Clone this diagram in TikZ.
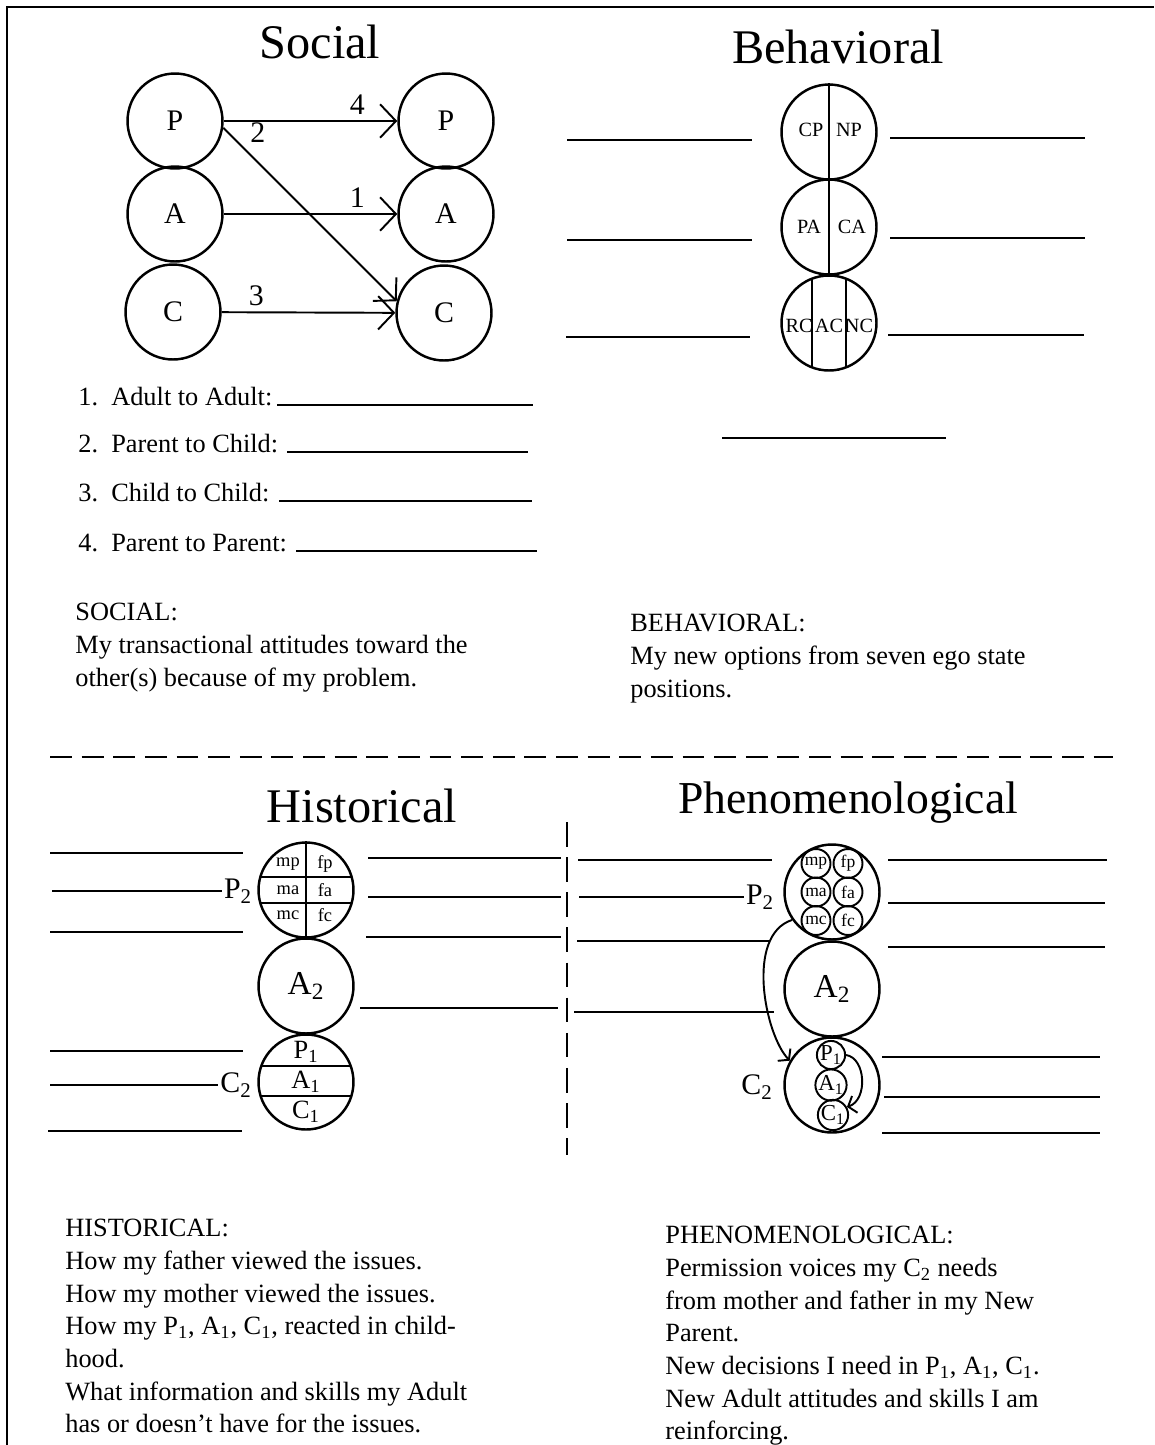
\documentclass[tikz,border=0pt]{standalone}
\usepackage{fontspec}
\setmainfont{Liberation Serif}
\usetikzlibrary{positioning}
\usetikzlibrary{calc}
\usetikzlibrary{arrows.meta}
\tikzstyle{ego} = [circle, draw=black, line width=1.4pt, minimum size=1.9cm, inner sep=0pt, font=\fontsize{17}{20}\selectfont]
\tikzstyle{cell} = [circle, draw=black, line width=1.1pt, minimum size=0.58cm, inner sep=0pt, font=\fontsize{10}{12}\selectfont]
\tikzstyle{lbl} = [inner sep=0pt, font=\fontsize{11.5}{13}\selectfont]
\tikzstyle{title} = [font=\fontsize{27.5}{32}\selectfont]
\tikzstyle{body} = [anchor=north west, inner sep=0pt, align=left, font=\fontsize{15}{18.6}\selectfont]
\tikzstyle{item} = [anchor=base west, inner sep=0pt, font=\fontsize{15}{18.6}\selectfont]
\tikzstyle{arrow} = [line width=1.1pt, -{Straight Barb[length=9pt,width=19pt]}]
\tikzstyle{small arrow} = [line width=1.1pt, -{Straight Barb[length=4pt,width=10pt]}]
\tikzstyle{blank} = [line width=1.2pt]
\begin{document}
\begin{tikzpicture}[x=0.02cm, y=-0.02cm]
        \useasboundingbox (0,0) rectangle (1154,1445);
        \draw[line width=1.6pt] (7,1445) -- (7,7) -- (1154,7);

        % social
        \node[title] (socT) at (320,42) {Social};
        \node[ego] (lP) at (175,121) {P};
        \node[ego] (lA) at (175,214) {A};
        \node[ego] (lC) at (173,312) {C};
        \node[ego] (rP) at (446,121) {P};
        \node[ego] (rA) at (446,214) {A};
        \node[ego] (rC) at (444,313) {C};
        \path [arrow] (lP) edge node[above, pos=.77, font=\fontsize{17}{20}\selectfont] {4} (rP);
        \path [arrow] (lA) edge node[above, pos=.77, font=\fontsize{17}{20}\selectfont] {1} (rA);
        \path [arrow] (lC) edge node[above, pos=.2, font=\fontsize{17}{20}\selectfont] {3} (rC);
        \path [arrow] (lP.-8) edge node[above right, pos=.12, inner sep=3pt, font=\fontsize{17}{20}\selectfont] {2} (rC.166);

        \node[item] (it1) at (78,405) {1.\enspace Adult to Adult:};
        \node[item] (it2) at (78,452) {2.\enspace Parent to Child:};
        \node[item] (it3) at (78,501) {3.\enspace Child to Child:};
        \node[item] (it4) at (78,551) {4.\enspace Parent to Parent:};
        \draw[blank] (277,405) -- (533,405);
        \draw[blank] (287,452) -- (528,452);
        \draw[blank] (279,501) -- (532,501);
        \draw[blank] (296,551) -- (537,551);
        \node[body] (socX) at (75,603) {SOCIAL:\\My transactional attitudes toward the\\other(s) because of my problem.};

        % behavioral
        \node[title] (behT) at (838,47) {Behavioral};
        \node[ego] (bT) at (829,132) {};
        \node[ego] (bM) at (829,227) {};
        \node[ego] (bB) at (829,323) {};
        \draw[line width=1.1pt] (bT.north) -- (bT.south);
        \draw[line width=1.1pt] (bM.north) -- (bM.south);
        \draw[line width=1.1pt] ($(bB.center)+(-17,-44)$) -- ($(bB.center)+(-17,44)$);
        \draw[line width=1.1pt] ($(bB.center)+(17,-44)$) -- ($(bB.center)+(17,44)$);
        \node[lbl] (bCP) at (811,130) {CP};
        \node[lbl] (bNP) at (849,130) {NP};
        \node[lbl] (bPA) at (809,227) {PA};
        \node[lbl] (bCA) at (852,227) {CA};
        \node[lbl] (bRC) at (799,326) {RC};
        \node[lbl] (bAC) at (829,326) {AC};
        \node[lbl] (bNC) at (859,326) {NC};
        \draw[blank] (567,140) -- (752,140);
        \draw[blank] (567,240) -- (752,240);
        \draw[blank] (566,337) -- (750,337);
        \draw[blank] (890,138) -- (1085,138);
        \draw[blank] (890,238) -- (1085,238);
        \draw[blank] (888,335) -- (1084,335);
        \draw[blank] (722,438) -- (946,438);
        \node[body] (behX) at (630,614) {BEHAVIORAL:\\My new options from seven ego state\\positions.};

        % separators
        \draw[line width=1.1pt, dash pattern=on 12.5pt off 5.5pt] (50,757) -- (1113,757);
        \draw[line width=1.1pt, dash pattern=on 14pt off 6pt] (567,822) -- (567,1155);

        % historical
        \node[title] (hisT) at (362,806) {Historical};
        \node[ego] (hT) at (306,890) {};
        \node[ego, font=\fontsize{19}{22}\selectfont] (hM) at (306,986) {A\textsubscript{2}};
        \node[ego] (hB) at (306,1082) {};
        \draw[line width=1.1pt] (hT.north) -- (hT.south);
        \draw[line width=1.1pt] ($(hT.center)+(-45.7,-13)$) -- ($(hT.center)+(45.7,-13)$);
        \draw[line width=1.1pt] ($(hT.center)+(-45.7,13)$) -- ($(hT.center)+(45.7,13)$);
        \draw[line width=1.1pt] ($(hB.center)+(-44.7,-16)$) -- ($(hB.center)+(44.7,-16)$);
        \draw[line width=1.1pt] ($(hB.center)+(-45.4,14)$) -- ($(hB.center)+(45.4,14)$);
        \node[lbl, font=\fontsize{10.5}{12}\selectfont] (hmp) at (288,864) {mp};
        \node[lbl, font=\fontsize{10.5}{12}\selectfont] (hfp) at (325,864) {fp};
        \node[lbl, font=\fontsize{10.5}{12}\selectfont] (hma) at (288,890) {ma};
        \node[lbl, font=\fontsize{10.5}{12}\selectfont] (hfa) at (325,890) {fa};
        \node[lbl, font=\fontsize{10.5}{12}\selectfont] (hmc) at (288,915) {mc};
        \node[lbl, font=\fontsize{10.5}{12}\selectfont] (hfc) at (325,915) {fc};
        \node[lbl, font=\fontsize{15}{17}\selectfont] (hP1) at (306,1052) {P\textsubscript{1}};
        \node[lbl, font=\fontsize{15}{17}\selectfont] (hA1) at (306,1082) {A\textsubscript{1}};
        \node[lbl, font=\fontsize{15}{17}\selectfont] (hC1) at (306,1112) {C\textsubscript{1}};
        \node[lbl, font=\fontsize{17}{20}\selectfont, inner sep=1pt] (hP2) at (238,891) {P\textsubscript{2}};
        \node[lbl, font=\fontsize{17}{20}\selectfont, inner sep=1pt] (hC2) at (236,1085) {C\textsubscript{2}};
        \draw[blank] (50,853) -- (243,853);
        \draw[blank] (52,0 |- hP2.west) -- (hP2.west);
        \draw[blank] (50,932) -- (243,932);
        \draw[blank] (50,1051) -- (243,1051);
        \draw[blank] (50,0 |- hC2.west) -- (hC2.west);
        \draw[blank] (48,1131) -- (242,1131);
        \draw[blank] (368,858) -- (561,858);
        \draw[blank] (368,897) -- (561,897);
        \draw[blank] (366,937) -- (561,937);
        \draw[blank] (360,1008) -- (558,1008);
        \node[body] (hisX) at (65,1219) {HISTORICAL:\\How my father viewed the issues.\\How my mother viewed the issues.\\How my P\textsubscript{1}, A\textsubscript{1}, C\textsubscript{1}, reacted in child-\\hood.\\What information and skills my Adult\\has or doesn’t have for the issues.};

        % phenomenological
        \node[title, font=\fontsize{26}{30}\selectfont] (phT) at (848,803) {Phenomenological};
        \node[ego] (pT) at (832,892) {};
        \node[ego, font=\fontsize{19}{22}\selectfont] (pM) at (832,989) {A\textsubscript{2}};
        \node[ego] (pB) at (832,1085) {};
        \node[cell] (pmp) at (816,863.5) {mp};
        \node[cell] (pfp) at (848,863.5) {fp};
        \node[cell] (pma) at (816,892) {ma};
        \node[cell] (pfa) at (848,892) {fa};
        \node[cell] (pmc) at (816,920.5) {mc};
        \node[cell] (pfc) at (848,920.5) {fc};
        \node[cell, minimum size=0.54cm, font=\fontsize{13}{15}\selectfont] (pP1) at (831,1055) {P\textsubscript{1}};
        \node[cell, minimum size=0.54cm, font=\fontsize{13}{15}\selectfont] (pA1) at (831,1085) {A\textsubscript{1}};
        \node[cell, minimum size=0.54cm, font=\fontsize{13}{15}\selectfont] (pC1) at (833,1115) {C\textsubscript{1}};
        \node[lbl, font=\fontsize{17}{20}\selectfont, inner sep=1pt] (pP2) at (760,897) {P\textsubscript{2}};
        \node[lbl, font=\fontsize{17}{20}\selectfont, inner sep=1pt] (pC2) at (757,1087) {C\textsubscript{2}};
        \draw[small arrow] (pT.215) .. controls (745,935) and (765,1035) .. (pB.150);
        \draw[small arrow] (pP1.east) .. controls (866,1058) and (868,1100) .. (pC1.30);
        \draw[blank] (578,860) -- (772,860);
        \draw[blank] (579,0 |- pP2.west) -- (pP2.west);
        \draw[blank] (577,941) -- (770,941);
        \draw[blank] (574,1012) -- (774,1012);
        \draw[blank] (888,860) -- (1107,860);
        \draw[blank] (888,903) -- (1105,903);
        \draw[blank] (888,947) -- (1105,947);
        \draw[blank] (882,1057) -- (1100,1057);
        \draw[blank] (884,1097) -- (1100,1097);
        \draw[blank] (882,1133) -- (1100,1133);
        \node[body] (phX) at (665,1226) {PHENOMENOLOGICAL:\\Permission voices my C\textsubscript{2} needs\\from mother and father in my New\\Parent.\\New decisions I need in P\textsubscript{1}, A\textsubscript{1}, C\textsubscript{1}.\\New Adult attitudes and skills I am\\reinforcing.};
\end{tikzpicture}
\end{document}
